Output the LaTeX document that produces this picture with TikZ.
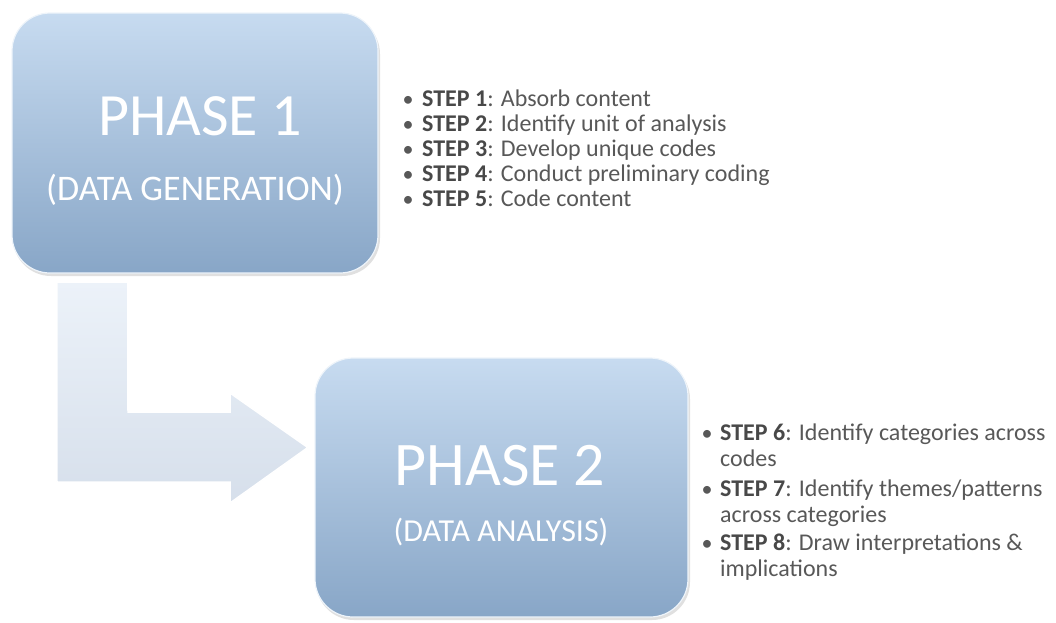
\documentclass[tikz,border=0pt]{standalone}
\usepackage{fontspec}
\setmainfont{Carlito}
\usetikzlibrary{calc}
\definecolor{boxtop}{RGB}{199,219,240}
\definecolor{boxbot}{RGB}{136,166,199}
\definecolor{arrtop}{RGB}{236,242,249}
\definecolor{arrbot}{RGB}{214,223,235}
\definecolor{steptext}{RGB}{88,88,88}
\definecolor{stepbold}{RGB}{72,72,72}
\tikzset{
  phasebox/.style={rounded corners=38pt, top color=boxtop, bottom color=boxbot, draw=white!70!boxtop, line width=1.2pt},
  boxshadow/.style={rounded corners=38pt, fill=black!12},
  bigtitle/.style={text=white, font=\fontsize{60}{70}\selectfont, anchor=base, inner sep=0pt},
  subtitle/.style={text=white, font=\fontsize{36}{40}\selectfont, anchor=base, inner sep=0pt},
  stepline/.style={text=steptext, font=\fontsize{24}{25}\selectfont, anchor=base west, inner sep=0pt},
  stepline2/.style={text=steptext, font=\fontsize{24}{26}\selectfont, anchor=base west, inner sep=0pt},
  bul/.style={text=steptext, anchor=base, inner sep=0pt, font=\fontsize{22}{25}\selectfont},
  blockarrow/.style={top color=arrtop, bottom color=arrbot, draw=white, line width=1.5pt, line join=miter}
}
\newcommand{\stp}[1]{\textbf{\color{stepbold}STEP #1}}
\begin{document}
\begin{tikzpicture}[x=1pt,y=-1pt]
\useasboundingbox (0,0) rectangle (1056,622);
% boxes
\path[boxshadow] (13,16) rectangle (380,276);
\path[phasebox] (12,13) rectangle (378,273);
\node[inner sep=0pt, minimum width=366pt, minimum height=260pt] (box1) at (195,143) {};
\path[boxshadow] (316,361) rectangle (690,620);
\path[phasebox] (315,358) rectangle (688,617);
\node[inner sep=0pt, minimum width=373pt, minimum height=259pt] (box2) at (501.5,487.5) {};
% block arrow from box1 to box2
\coordinate (astart) at ($(box1.south west)+(45,9)$);
\coordinate (atip) at ($(box2.west)+(-7,-40)$);
\path[blockarrow] (astart) -- ++(71,0) -- (128,412) -- (230,412) -- (230,393) -- (atip) -- (230,503) -- (230,482) -- (57,482) -- cycle;
% titles
\node[bigtitle] (p1) at (200,135) {PHASE 1};
\node[subtitle] (p1s) at (195,200) {(DATA GENERATION)};
\node[bigtitle, font=\fontsize{62}{70}\selectfont] (p2) at (500,485) {PHASE 2};
\node[subtitle, font=\fontsize{32}{40}\selectfont] (p2s) at (501,541) {(DATA ANALYSIS)};
% phase 1 steps
\foreach \y/\n/\t in {106/1/Absorb content, 131/2/Identify unit of analysis, 156/3/Develop unique codes, 181/4/Conduct preliminary coding, 206/5/Code content}{
  \node[bul] (b\n) at (408,\y) {•};
  \node[stepline] (s\n) at (422,\y) {\stp{\n}: \t};
}
% phase 2 steps
\node[bul] (b6) at (707,440) {•};
\node[stepline2] (s6) at (720,440) {\stp{6}: Identify categories across};
\node[stepline2] (s6b) at (720,466) {codes};
\node[bul] (b7) at (707,496) {•};
\node[stepline2] (s7) at (720,496) {\stp{7}: Identify themes/patterns};
\node[stepline2] (s7b) at (720,522) {across categories};
\node[bul] (b8) at (707,550) {•};
\node[stepline2] (s8) at (720,550) {\stp{8}: Draw interpretations \&};
\node[stepline2] (s8b) at (720,576) {implications};
\end{tikzpicture}
\end{document}
